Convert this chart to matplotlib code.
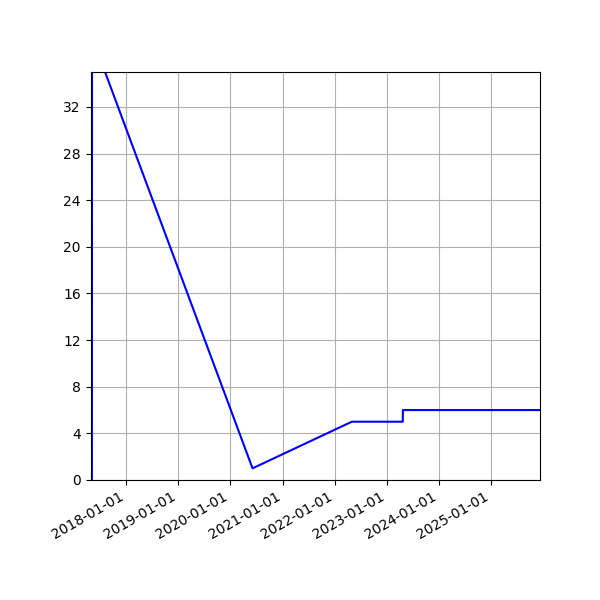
import matplotlib
matplotlib.use("Agg")
import matplotlib.pyplot as plt
import matplotlib.dates as mdates
from matplotlib.ticker import MultipleLocator
import numpy as np

# data
dates = np.array(["2017-05-07", "2017-05-08", "2020-06-05", "2022-05-01",
                  "2023-04-23", "2023-04-24", "2025-12-09"], dtype="datetime64[D]")
values = [0, 38, 1, 5, 5, 6, 6]
x_range = np.array(["2017-04-28", "2025-12-09"], dtype="datetime64[D]")
tick_years = ["2018-01-01", "2019-01-01", "2020-01-01", "2021-01-01",
              "2022-01-01", "2023-01-01", "2024-01-01", "2025-01-01"]

fig, ax = plt.subplots(figsize=(6, 6), dpi=100)
ax.plot(dates, values, color="blue")
ax.set_xlim(x_range[0], x_range[1])
ax.set_ylim(0, 35)
ax.yaxis.set_major_locator(MultipleLocator(4))
ax.set_xticks(np.array(tick_years, dtype="datetime64[D]"))
ax.xaxis.set_major_formatter(mdates.DateFormatter("%Y-%m-%d"))
ax.grid(True)
fig.autofmt_xdate()
fig.subplots_adjust(left=0.151, right=0.9, top=0.88, bottom=0.2)
fig.savefig("out.png", dpi=100)
